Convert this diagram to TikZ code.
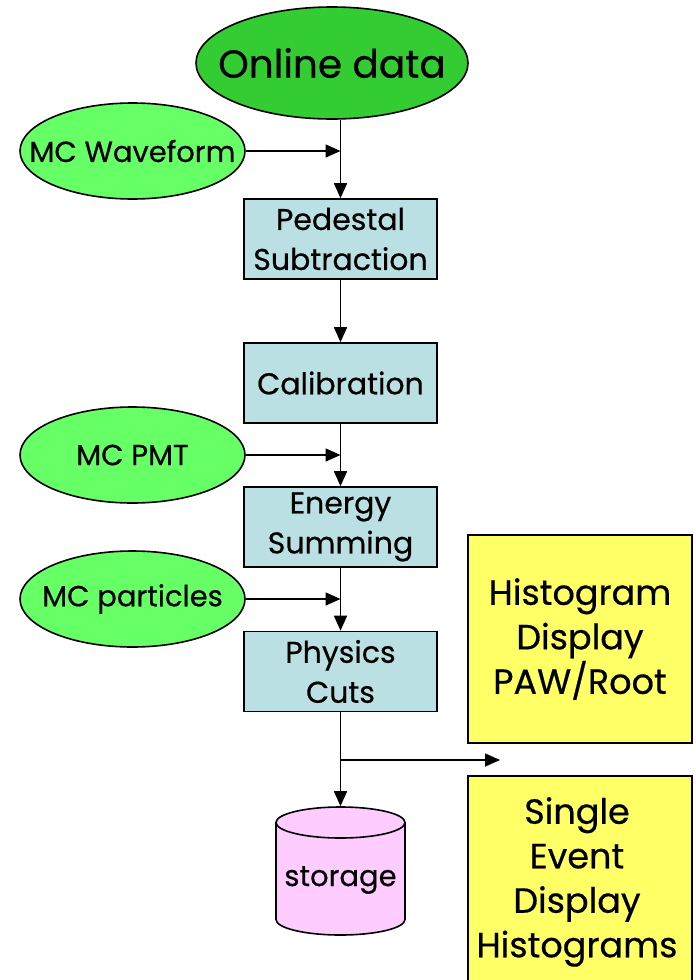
\documentclass[tikz,border=0pt]{standalone}
\usepackage{fontspec}
\setmainfont{Poppins}[FakeBold=0.5]
\usetikzlibrary{shapes.geometric,arrows.meta}
\definecolor{onlinegreen}{HTML}{33CC33}
\definecolor{mcgreen}{HTML}{66FF66}
\definecolor{boxblue}{HTML}{BBE0E3}
\definecolor{noteyellow}{HTML}{FFFF66}
\definecolor{storepink}{HTML}{FFCCFF}
% centred label that does not widen its shape
\newcommand{\fixedlabel}[1]{\makebox[0pt]{#1}}
\begin{document}
\begin{tikzpicture}[x=1pt,y=-1pt,
  line width=1.6pt,
  stepbox/.style={draw, fill=boxblue, minimum width=193pt, minimum height=80pt,
    inner sep=0pt, align=center, font=\fontsize{30}{40}\selectfont},
  mcin/.style={ellipse, draw, fill=mcgreen, minimum width=225pt, minimum height=96pt,
    inner sep=0pt, font=\fontsize{29}{36}\selectfont},
  display/.style={draw, fill=noteyellow, minimum width=224pt, inner sep=0pt,
    align=center, font=\fontsize{35}{44.5}\selectfont},
  flow/.style={-{Triangle[length=15pt,width=13pt]}},
]
\useasboundingbox (0,0) rectangle (696,980);
\clip (0,0) rectangle (696,980);

% data source
\node[ellipse, draw, fill=onlinegreen, minimum width=272pt, minimum height=112pt,
  inner sep=0pt, font=\fontsize{39}{48}\selectfont] (online) at (332,63)
  {\fixedlabel{Online data}};

% processing chain
\node[stepbox] (ped)    at (340.5,239)   {Pedestal\\Subtraction};
\node[stepbox] (cal)    at (340.5,383)   {Calibration};
\node[stepbox] (energy) at (340.5,527)   {Energy\\Summing};
\node[stepbox] (cuts)   at (340.5,671.5) {Physics\\Cuts};

% Monte Carlo inputs
\node[mcin] (wave) at (132.5,151) {\fixedlabel{MC Waveform}};
\node[mcin] (pmt)  at (132.5,455) {\fixedlabel{MC PMT}};
\node[mcin] (part) at (132.5,599) {\fixedlabel{MC particles}};

% displays
\node[display, minimum height=208pt] (hist) at (580,639) {Histogram\\Display\\PAW/Root};
\node[display, minimum height=240pt, anchor=north] (single) at (580,775) {};
\node[align=center, font=\fontsize{35}{44.5}\selectfont, anchor=north] (singletext)
  at (577,793) {Single\\Event\\Display\\Histograms};

% storage drum
\node[minimum width=129pt, minimum height=128pt, inner sep=0pt] (storage) at (340.5,871) {};
\fill[storepink] (276,822.5) -- (276,919.5)
  arc[start angle=180, end angle=0, x radius=64.5, y radius=15.5]
  -- (405,822.5) -- cycle;
\draw (276,822.5) -- (276,919.5)
  arc[start angle=180, end angle=0, x radius=64.5, y radius=15.5]
  -- (405,822.5);
\draw[fill=storepink] (340.5,822.5) ellipse[x radius=64.5, y radius=15.5];
\node[font=\fontsize{29}{36}\selectfont] (storagelabel) at (340.5,880) {storage};

% main flow
\coordinate (j1) at (ped.north |- wave.east);
\coordinate (j2) at (energy.north |- pmt.east);
\coordinate (j3) at (cuts.north |- part.east);
\draw[flow] (ped.north |- online.south) -- (ped.north);
\draw[flow] (wave.east) -- (j1);
\draw[flow] (ped.south) -- (cal.north);
\draw[flow] (cal.south) -- (energy.north);
\draw[flow] (pmt.east) -- (j2);
\draw[flow] (energy.south) -- (cuts.north);
\draw[flow] (part.east) -- (j3);
\draw[flow] (cuts.south) -- (storage.north);
\coordinate (split) at (cuts.south |- 0,760);
\coordinate (todisplay) at (500,760);
\draw[flow] (split) -- (todisplay);
\end{tikzpicture}
\end{document}
